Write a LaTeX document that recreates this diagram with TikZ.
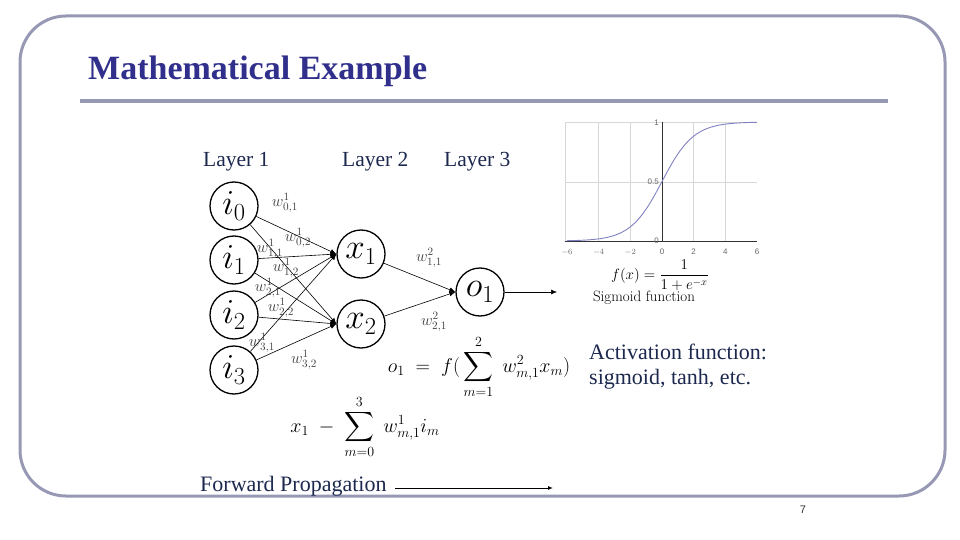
\RequirePackage{fix-cm}
\documentclass[tikz,border=0pt]{standalone}
\usepackage[no-math]{fontspec}
\usepackage{amsmath}
\setmainfont{Liberation Serif}
\newfontfamily\titlefont{Liberation Serif}
\newfontfamily\numfont{Liberation Sans}
\usetikzlibrary{arrows.meta}
\definecolor{bordercol}{RGB}{150,152,180}
\definecolor{titlecol}{RGB}{48,48,140}
\definecolor{navy}{RGB}{28,40,78}
\definecolor{sigcol}{RGB}{128,128,192}
\definecolor{gridcol}{RGB}{215,215,215}
\tikzset{
  neuron/.style={circle, draw=black, line width=1.3pt, minimum size=48pt, inner sep=0pt, font=\fontsize{35}{35}\selectfont},
  edge/.style={line width=0.6pt, -{Latex[length=6pt,width=5pt]}},
  wlab/.style={inner sep=0pt, text=black!75, font=\fontsize{16}{16}\selectfont},
  bigtext/.style={inner sep=0pt, anchor=base west, text=navy, font=\fontsize{21.5}{24}\selectfont},
  ticklab/.style={inner sep=0pt, text=black!60, font=\numfont\fontsize{8}{8}\selectfont},
}
\begin{document}
\begin{tikzpicture}[x=1pt, y=-1pt]
\useasboundingbox (0,0) rectangle (960,540);
% frame
\draw[rounded corners=46pt, line width=3pt, bordercol] (20,16) rectangle (945,496);
\node[inner sep=0pt, anchor=base west, text=titlecol, font=\titlefont\bfseries\fontsize{34}{35}\selectfont] (title) at (88,80) {Mathematical Example};
\draw[line width=4pt, bordercol] (80,101) -- (888,101);
% layer labels
\node[bigtext] (l1) at (203,167) {Layer 1};
\node[bigtext] (l2) at (342,167) {Layer 2};
\node[bigtext] (l3) at (444,167) {Layer 3};
% neurons
\node[neuron] (i0) at (234,206) {$i_0$};
\node[neuron] (i1) at (234,260) {$i_1$};
\node[neuron] (i2) at (234,315) {$i_2$};
\node[neuron] (i3) at (234,370) {$i_3$};
\node[neuron] (x1) at (361,254) {$x_1$};
\node[neuron] (x2) at (361,324) {$x_2$};
\node[neuron] (o1) at (480,292) {$o_1$};
% edges
\foreach \s in {i0,i1,i2,i3}{
  \draw[edge] (\s) -- (x1.west);
  \draw[edge] (\s) -- (x2.west);
}
\draw[edge] (x1) -- (o1.west);
\draw[edge] (x2) -- (o1.west);
\coordinate (out) at (557,292);
\draw[edge] (o1) -- (out);
% weight labels
\node[wlab] (w01) at (285,203) {$w^1_{0,1}$};
\node[wlab] (w02) at (298,238) {$w^1_{0,2}$};
\node[wlab] (w11) at (270,249) {$w^1_{1,1}$};
\node[wlab] (w12) at (286,268) {$w^1_{1,2}$};
\node[wlab] (w21) at (268,288) {$w^1_{2,1}$};
\node[wlab] (w22) at (281,308) {$w^1_{2,2}$};
\node[wlab] (w31) at (262,343) {$w^1_{3,1}$};
\node[wlab] (w32) at (304,360) {$w^1_{3,2}$};
\node[wlab] (v11) at (429,258) {$w^2_{1,1}$};
\node[wlab] (v21) at (434,322) {$w^2_{2,1}$};
% formulas
\node[inner sep=0pt, font=\fontsize{20}{20}\selectfont] (fo) at (479,367) {$o_1 \;=\; f(\,\displaystyle\sum_{m=1}^{2}\; w^2_{m,1}x_m)$};
\node[inner sep=0pt, font=\fontsize{20}{20}\selectfont] (fx) at (365,427) {$x_1 \;-\; \displaystyle\sum_{m=0}^{3}\; w^1_{m,1}i_m$};
% sigmoid plot
\foreach \t in {-4,-2,2,4}{\draw[gridcol, line width=0.6pt] ({662+15.83*\t},122) -- ({662+15.83*\t},241);}
\draw[gridcol, line width=0.6pt] (565,241) -- (565,122) -- (757,122);
\draw[gridcol, line width=0.6pt] (565,182) -- (757,182);
\draw[black!80, line width=0.8pt] (565,241) -- (757,241);
\draw[black!80, line width=0.8pt] (662,122) -- (662,241);
\draw[sigcol, line width=0.9pt, smooth, samples=80, domain=-6:6] plot ({662+15.83*\x},{241-119/(1+exp(-\x))});
\foreach \t/\l in {-6/$-6$,-4/$-4$,-2/$-2$,0/0,2/2,4/4,6/6}{\node[ticklab] at ({662+15.83*\t},252) {\l};}
\node[ticklab, anchor=east] (y1) at (659,123) {1};
\node[ticklab, anchor=east] (y5) at (659,182) {0.5};
\node[ticklab, anchor=east] (y0) at (659,241) {0};
\node[inner sep=0pt, font=\fontsize{15}{15}\selectfont] (fsig) at (660,275) {$f(x) = \dfrac{1}{1+e^{-x}}$};
\node[inner sep=0pt, font=\fontsize{15}{15}\selectfont] (sigf) at (644,298) {\fontspec{Latin Modern Roman}Sigmoid function};
% activation text
\node[bigtext, font=\fontsize{22}{24}\selectfont] (act1) at (589,359) {Activation function:};
\node[bigtext, font=\fontsize{22}{24}\selectfont] (act2) at (589,384) {sigmoid, tanh, etc.};
% forward propagation
\node[bigtext, font=\fontsize{22}{24}\selectfont] (fwd) at (200,491) {Forward Propagation};
\coordinate (fa) at (395,488);
\coordinate (fb) at (553,488);
\draw[line width=1pt, -{Latex[length=5pt,width=4pt]}] (fa) -- (fb);
% page number
\node[inner sep=0pt, text=black!80, font=\numfont\fontsize{11}{11}\selectfont] (pg) at (803,510) {7};
\end{tikzpicture}
\end{document}
